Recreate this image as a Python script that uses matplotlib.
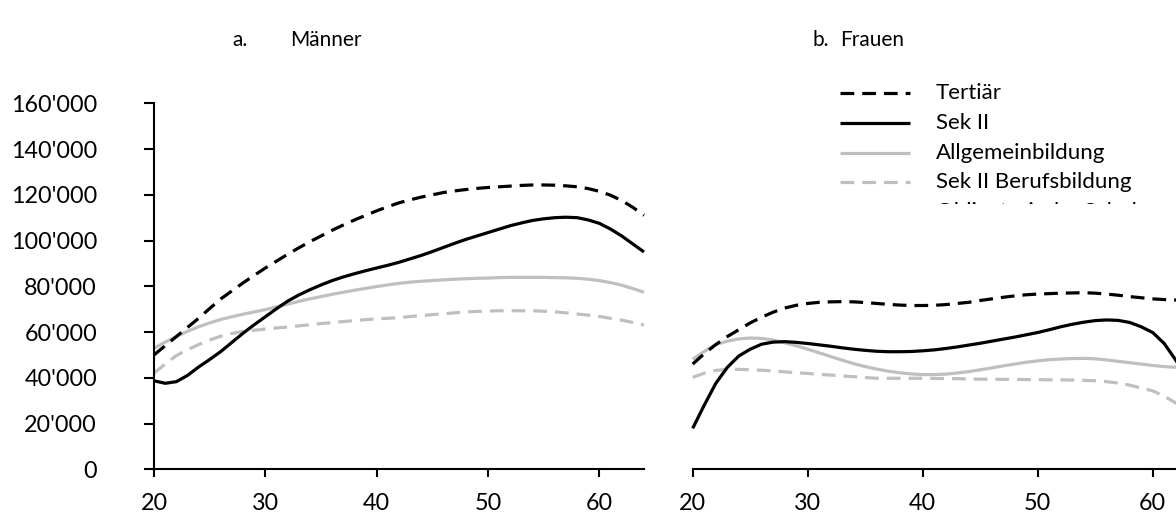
import matplotlib
matplotlib.use("Agg")
import matplotlib.pyplot as plt
from matplotlib.ticker import FuncFormatter, MultipleLocator

plt.rcParams['font.family'] = ['Lato', 'DejaVu Sans']

ages = list(range(20, 65))

# Männer (in 1000 CHF)
m_tertiaer = [50, 54, 58, 62, 66, 70.3, 74.5, 78, 81.5, 84.8, 88, 91, 94, 96.8, 99.5,
              102, 104.5, 106.8, 109, 111, 113, 114.8, 116.5, 117.8, 119, 120, 121,
              121.7, 122.3, 122.8, 123.2, 123.5, 123.8, 124.1, 124.3, 124.3, 124.2,
              123.9, 123.5, 122.7, 121.5, 119.8, 117.5, 114.5, 111]
m_sek2 = [38.7, 37.6, 38.3, 41, 44.7, 48, 51.5, 55.5, 59.5, 63.2, 66.7, 70.2, 73.5,
          76.2, 78.5, 80.6, 82.5, 84.1, 85.5, 86.8, 88, 89.2, 90.5, 92, 93.5, 95.2,
          97, 98.8, 100.5, 102, 103.5, 105, 106.5, 107.7, 108.8, 109.5, 110, 110.2,
          110, 109, 107.5, 105, 102, 98.5, 95]
m_allg = [52.9, 55.6, 58, 60.3, 62.3, 64, 65.5, 66.7, 67.8, 68.8, 69.8, 71, 72.2,
          73.4, 74.5, 75.5, 76.5, 77.4, 78.3, 79.1, 79.9, 80.6, 81.3, 81.8, 82.2,
          82.5, 82.8, 83.1, 83.3, 83.5, 83.6, 83.8, 83.9, 83.9, 83.9, 83.9, 83.8,
          83.7, 83.5, 83.1, 82.5, 81.6, 80.5, 79, 77.4]
m_beruf = [42, 46, 49.7, 52.3, 54.5, 56.5, 58.2, 59.4, 60.3, 60.8, 61.3, 61.8, 62.2,
           62.7, 63.2, 63.7, 64.1, 64.6, 65, 65.4, 65.8, 66, 66.3, 66.8, 67.2, 67.6,
           68, 68.4, 68.8, 69, 69.2, 69.3, 69.3, 69.3, 69.3, 69.1, 68.8, 68.4, 67.9,
           67.4, 66.8, 66, 65.2, 64.2, 63.1]

# Frauen (in 1000 CHF)
f_tertiaer = [46, 50.5, 54.5, 58, 61, 64, 66.5, 68.7, 70.5, 71.7, 72.5, 73, 73.2,
              73.3, 73.2, 72.9, 72.5, 72.1, 71.8, 71.6, 71.6, 71.7, 72, 72.5, 73,
              73.8, 74.5, 75.2, 75.8, 76.3, 76.6, 76.8, 77, 77.1, 77.2, 77, 76.6,
              76.1, 75.5, 75, 74.5, 74.2, 74, 73.8, 73.5]
f_sek2 = [17.9, 28, 37.5, 44.5, 49.5, 52.5, 54.7, 55.6, 55.8, 55.5, 55, 54.4, 53.8,
          53.1, 52.5, 52, 51.6, 51.4, 51.4, 51.5, 51.8, 52.2, 52.8, 53.5, 54.3, 55.1,
          56, 56.9, 57.8, 58.8, 59.8, 61, 62.3, 63.4, 64.3, 65, 65.3, 65.1, 64.2,
          62.3, 59.8, 55, 47.8, 39, 30]
f_allg = [48.1, 51.5, 54.5, 56, 57, 57.4, 57.2, 56.5, 55.3, 54, 52.5, 50.9, 49.3,
          47.7, 46.2, 44.9, 43.8, 42.9, 42.2, 41.7, 41.4, 41.4, 41.6, 42.1, 42.7,
          43.5, 44.3, 45.2, 46, 46.8, 47.4, 47.9, 48.2, 48.4, 48.5, 48.3, 47.8, 47.2,
          46.6, 46, 45.4, 44.9, 44.6, 44.3, 44]
f_beruf = [40.2, 42, 43.2, 43.7, 43.7, 43.5, 43.3, 43, 42.6, 42.2, 41.9, 41.5, 41.2,
           40.8, 40.5, 40.1, 39.8, 39.8, 39.8, 39.8, 39.8, 39.7, 39.7, 39.6, 39.5,
           39.4, 39.4, 39.3, 39.3, 39.2, 39.2, 39.1, 39.1, 39, 38.9, 38.7, 38.3, 37.7,
           36.8, 35.5, 34.3, 32, 29, 26, 23]

labels = ["Tertiär", "Sek II", "Allgemeinbildung", "Sek II Berufsbildung",
          "Obligatorische Schule"]
panel_titles = [("a.", "Männer"), ("b.", "Frauen")]
x_ticks = [20, 30, 40, 50, 60]

BLACK = "#000000"
GRAY = "#BFBFBF"
styles = [
    dict(color=BLACK, lw=2.3, dashes=(4.3, 2.5)),
    dict(color=BLACK, lw=2.3),
    dict(color=GRAY, lw=2.3),
    dict(color=GRAY, lw=2.3, dashes=(4.3, 2.5)),
]

FS = 16
FS_TICK = 16.8
FS_TITLE = 15
fig = plt.figure(figsize=(11.76, 5.17), dpi=100)

W, H = 1176.0, 517.0
y_bot = 469.3
y_top = 103.3
axL = fig.add_axes([154 / W, (H - y_bot) / H, 490 / W, (y_bot - y_top) / H])
axR = fig.add_axes([692.7 / W, (H - y_bot) / H, 506 / W, (y_bot - y_top) / H])

def k(v):
    return [x * 1000 for x in v]

for ax, series in ((axL, (m_tertiaer, m_sek2, m_allg, m_beruf)),
                   (axR, (f_tertiaer, f_sek2, f_allg, f_beruf))):
    for vals, st, lab in zip(series[::-1], styles[::-1], labels[:4][::-1]):
        ax.plot(ages, k(vals), label=lab, solid_capstyle='butt',
                dash_capstyle='butt', solid_joinstyle='round',
                dash_joinstyle='round', clip_on=False, **st)
    ax.set_xlim(20, 64)
    ax.set_ylim(0, 160000)
    ax.set_xticks(x_ticks)
    for s in ('top', 'right'):
        ax.spines[s].set_visible(False)
    ax.spines['bottom'].set_linewidth(1.5)
    ax.spines['left'].set_linewidth(1.5)
    ax.tick_params(axis='x', direction='out', length=6, width=1.5, pad=11,
                   labelsize=FS_TICK)
    ax.tick_params(axis='y', direction='out', length=7, width=1.5, pad=34,
                   labelsize=FS_TICK)

axL.yaxis.set_major_locator(MultipleLocator(20000))
axL.yaxis.set_major_formatter(FuncFormatter(lambda v, p: f"{v:,.0f}".replace(",", "'")))
axR.spines['left'].set_visible(False)
axR.set_yticks([])

# Titles
fig.text(232 / W, 1 - 40 / H, panel_titles[0][0], fontsize=FS_TITLE, va='center', ha='left')
fig.text(290 / W, 1 - 40 / H, panel_titles[0][1], fontsize=FS_TITLE, va='center', ha='left')
fig.text(813 / W, 1 - 40 / H, panel_titles[1][0], fontsize=FS_TITLE, va='center', ha='left')
fig.text(840 / W, 1 - 40 / H, panel_titles[1][1], fontsize=FS_TITLE, va='center', ha='left')

# Legend (clipped at the bottom as in the original)
lax = fig.add_axes([820 / W, (H - 204) / H, 356 / W, 130 / H])
lax.set_xlim(820, 1176)
lax.set_ylim(204, 74)
lax.axis('off')
rows = [93, 123, 153, 182, 212]
for i, lab in enumerate(labels):
    y = rows[i]
    if i < 4:
        lax.plot([840, 910], [y, y], solid_capstyle='butt', dash_capstyle='butt',
                 **styles[i])
    lax.text(936, y, lab, fontsize=FS, va='center', ha='left', clip_on=True)

fig.savefig("out.png", dpi=100)
